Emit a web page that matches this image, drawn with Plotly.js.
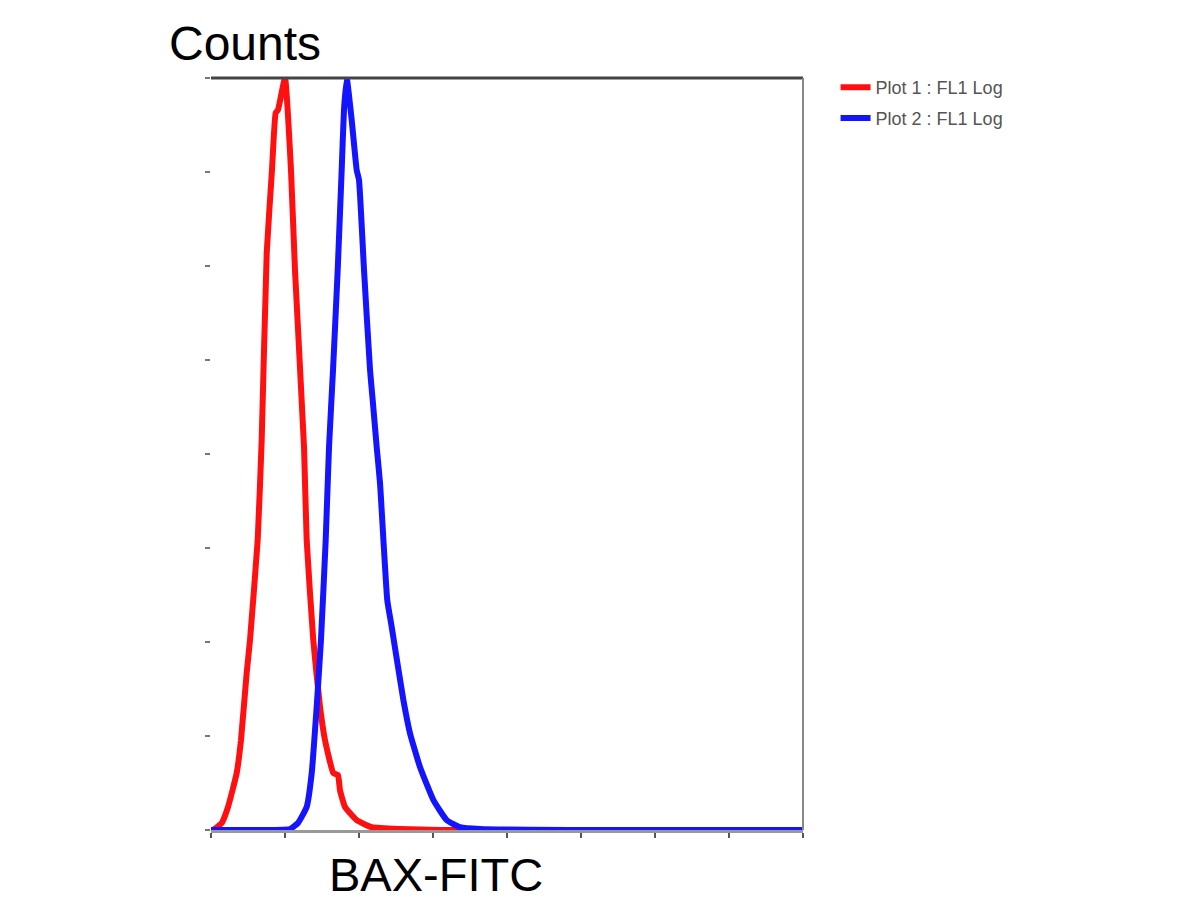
<!DOCTYPE html>
<html>
<head>
<meta charset="utf-8">
<script src="https://cdn.plot.ly/plotly-3.0.1.min.js"></script>
<style>html,body{margin:0;padding:0;background:#fff;}#chart{width:1200px;height:900px;}</style>
</head>
<body>
<div id="chart"></div>
<script>
// Series names
const seriesNames = ["Plot 1 : FL1 Log", "Plot 2 : FL1 Log"];

// Plot 1 (red) histogram: FL1 log channel (decades) vs counts
const plot1X = [0.03, 0.145, 0.23, 0.347, 0.405, 0.482, 0.527, 0.631, 0.685, 0.753, 0.824, 0.874, 0.905, 1.0,
  1.081, 1.135, 1.257, 1.293, 1.382, 1.473, 1.541, 1.653, 1.716, 1.743, 1.811, 1.969, 2.172, 2.55, 3.09, 5.0, 8.0];
const plot1Y = [0, 1.5, 4.9, 12.1, 19.1, 33.4, 40.4, 61.7, 83.0, 122.8, 140.4, 152.6, 153.2, 160,
  140.4, 119.1, 81.5, 61.7, 40.4, 26.2, 19.1, 12.1, 11.7, 8.5, 4.9, 2.1, 0.6, 0.2, 0, 0, 0];

// Plot 2 (blue) histogram
const plot2X = [0.0, 0.5, 1.068, 1.176, 1.293, 1.361, 1.428, 1.486, 1.55, 1.595, 1.649, 1.712, 1.766, 1.797, 1.834,
  1.901, 1.969, 2.0, 2.068, 2.149, 2.185, 2.239, 2.284, 2.382, 2.442, 2.599, 2.689, 2.824, 3.004, 3.185, 3.365, 3.635, 5.0, 8.0];
const plot2Y = [0, 0, 0.2, 1.5, 4.9, 12.1, 26.2, 40.4, 61.7, 81.5, 97.9, 119.1, 140.4, 153.2, 160,
  151.1, 140.4, 138.3, 119.1, 97.9, 91.5, 81.5, 73.8, 48.9, 43.2, 27.7, 20.6, 13.4, 6.4, 2.1, 0.6, 0.2, 0, 0];

// Axis ticks (unlabelled in the original)
const xTicks = [0, 1, 2, 3, 4, 5, 6, 7, 8];
const yTicks = [0, 20, 40, 60, 80, 100, 120, 140, 160];

const traces = [
  {x: plot1X, y: plot1Y, name: seriesNames[0], type: "scatter", mode: "lines",
   line: {color: "#ff1010", width: 6, shape: "spline", smoothing: 0.4}, legend: "legend", cliponaxis: false},
  {x: plot2X, y: plot2Y, name: seriesNames[1], type: "scatter", mode: "lines",
   line: {color: "#1414ff", width: 6, shape: "spline", smoothing: 0.4}, legend: "legend2", cliponaxis: false}
];

const layout = {
  width: 1200, height: 900,
  margin: {l: 211, r: 397, t: 78, b: 70},
  paper_bgcolor: "#ffffff", plot_bgcolor: "#ffffff",
  font: {family: "Liberation Sans, Arial, sans-serif", color: "#000"},
  xaxis: {
    range: [0, 8], tickvals: xTicks, showticklabels: false,
    ticks: "outside", ticklen: 5, tickwidth: 2, tickcolor: "#555",
    showgrid: false, zeroline: false,
    showline: true, linecolor: "#999", linewidth: 3, layer: "below traces"
  },
  yaxis: {
    range: [0, 160], tickvals: yTicks, showticklabels: false,
    ticks: "outside", ticklen: 5, tickwidth: 2, tickcolor: "#777",
    showgrid: false, zeroline: false, showline: false
  },
  shapes: [
    {type: "line", xref: "paper", yref: "paper", x0: 0, x1: 1, y0: 1, y1: 1,
     line: {color: "#444", width: 3}},
    {type: "line", xref: "paper", yref: "paper", x0: 1, x1: 1, y0: 0, y1: 1,
     line: {color: "#888", width: 2}}
  ],
  annotations: [
    {text: "Counts", xref: "paper", yref: "paper", x: -0.075, y: 1.0, xanchor: "left", yanchor: "bottom",
     yshift: 6, showarrow: false, font: {size: 48, color: "#000"}},
    {text: "BAX-FITC", xref: "paper", yref: "paper", x: 0.38, y: 0, xanchor: "center", yanchor: "top",
     yshift: -16, showarrow: false, font: {size: 47, color: "#000"}}
  ],
  showlegend: true,
  legend: {x: 1.055, y: 1.012, xanchor: "left", yanchor: "top", bgcolor: "rgba(0,0,0,0)",
    font: {size: 18, color: "#555"}, itemwidth: 30},
  legend2: {x: 1.055, y: 0.971, xanchor: "left", yanchor: "top", bgcolor: "rgba(0,0,0,0)",
    font: {size: 18, color: "#555"}, itemwidth: 30}
};

Plotly.newPlot("chart", traces, layout, {displayModeBar: false, staticPlot: true});
</script>
</body>
</html>
